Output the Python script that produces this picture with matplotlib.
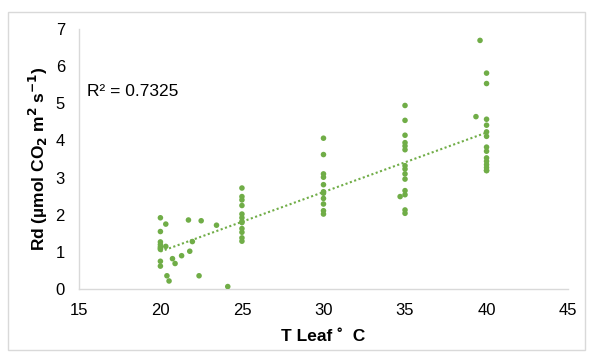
#!/usr/bin/env python3
"""Rd vs leaf temperature scatter with a linear trendline."""

import numpy as np
import matplotlib
matplotlib.use('Agg')
import matplotlib.pyplot as plt
from matplotlib.patches import Rectangle

plt.rcParams['font.family'] = ['Liberation Sans', 'DejaVu Sans']

# leaf temperature (deg C) and dark respiration
# (some markers overlap in the dense columns)
t_leaf = [
    20.0, 20.0, 20.0, 20.0, 20.0, 20.0, 20.0, 20.0, 20.0,
    20.33, 20.33, 20.4, 20.53, 20.74, 20.9, 21.3,
    21.72, 21.8, 21.96, 22.37, 22.5, 23.44, 24.13,
    25.0, 25.0, 25.0, 25.0, 25.0, 25.0, 25.0, 25.0, 25.0, 25.0, 25.0, 25.0,
    30.0, 30.0, 30.0, 30.0, 30.0, 30.0, 30.0, 30.0, 30.0, 30.0, 30.0,
    34.7, 35.0, 35.0, 35.0, 35.0, 35.0, 35.0, 35.0, 35.0, 35.0, 35.0,
    35.0, 35.0, 35.0, 35.0,
    39.35, 39.6, 40.0, 40.0, 40.0, 40.0, 40.0, 40.0, 40.0, 40.0, 40.0,
    40.0, 40.0, 40.0, 40.0, 40.0,
]
rd = [
    1.92, 1.55, 1.27, 1.20, 1.14, 1.10, 1.07, 0.75, 0.62,
    1.75, 1.15, 0.36, 0.22, 0.82, 0.69, 0.90,
    1.86, 1.02, 1.28, 0.36, 1.84, 1.72, 0.07,
    2.72, 2.49, 2.40, 2.25, 2.02, 1.92, 1.82, 1.79, 1.63, 1.53, 1.38, 1.29,
    4.06, 3.62, 3.10, 3.01, 2.81, 2.62, 2.58, 2.44, 2.29, 2.11, 2.02,
    2.49, 4.94, 4.54, 4.14, 3.94, 3.85, 3.75, 3.32, 3.23, 3.10, 2.96,
    2.65, 2.54, 2.13, 2.04,
    4.64, 6.69, 5.81, 5.53, 4.57, 4.41, 4.23, 4.11, 3.82, 3.71, 3.53,
    3.44, 3.35, 3.27, 3.19, 3.19,
]
r2_label = "R² = 0.7325"
x_ticks = [15, 20, 25, 30, 35, 40, 45]
y_ticks = [0, 1, 2, 3, 4, 5, 6, 7]

green = '#70AD47'
axis_grey = '#D9D9D9'

fig = plt.figure(figsize=(5.93, 3.61), dpi=100)
fig.patches.append(Rectangle((0.013, 0.03), 0.974, 0.937, transform=fig.transFigure,
                             fill=False, edgecolor=axis_grey, linewidth=1.0))
ax = fig.add_axes([0.133, 0.199, 0.825, 0.721])

x = np.array(t_leaf)
y = np.array(rd)
ax.scatter(x, y, s=16, color=green, edgecolors='none', zorder=3)

# linear trendline over the data range, Excel-style dotted
slope, intercept = np.polyfit(x, y, 1)
xs = np.array([20.0, 40.0])
ax.plot(xs, slope * xs + intercept, color=green, linestyle=(0, (1, 1.2)),
        linewidth=1.5, zorder=2)

ax.set_xlim(15, 45)
ax.set_ylim(0, 7)
ax.set_xticks(x_ticks)
ax.set_yticks(y_ticks)
ax.tick_params(axis='both', length=0, labelsize=12, colors='black')
ax.tick_params(axis='x', pad=10)
ax.tick_params(axis='y', pad=10)

for side in ['top', 'right']:
    ax.spines[side].set_visible(False)
for side in ['left', 'bottom']:
    ax.spines[side].set_color(axis_grey)
    ax.spines[side].set_linewidth(1.0)

ax.set_xlabel("T Leaf ˚  C", fontsize=12.5, fontweight='bold', labelpad=8)
ax.set_ylabel("Rd (µmol CO$_\\mathbf{2}$ m$^\\mathbf{2}$ s$^\\mathbf{-1}$)",
              fontsize=12.5, fontweight='bold', labelpad=4)

ax.text(0.017, 0.759, r2_label, transform=ax.transAxes, fontsize=12.5,
        ha='left', va='center')

fig.savefig('out.png', dpi=100)
plt.close(fig)
